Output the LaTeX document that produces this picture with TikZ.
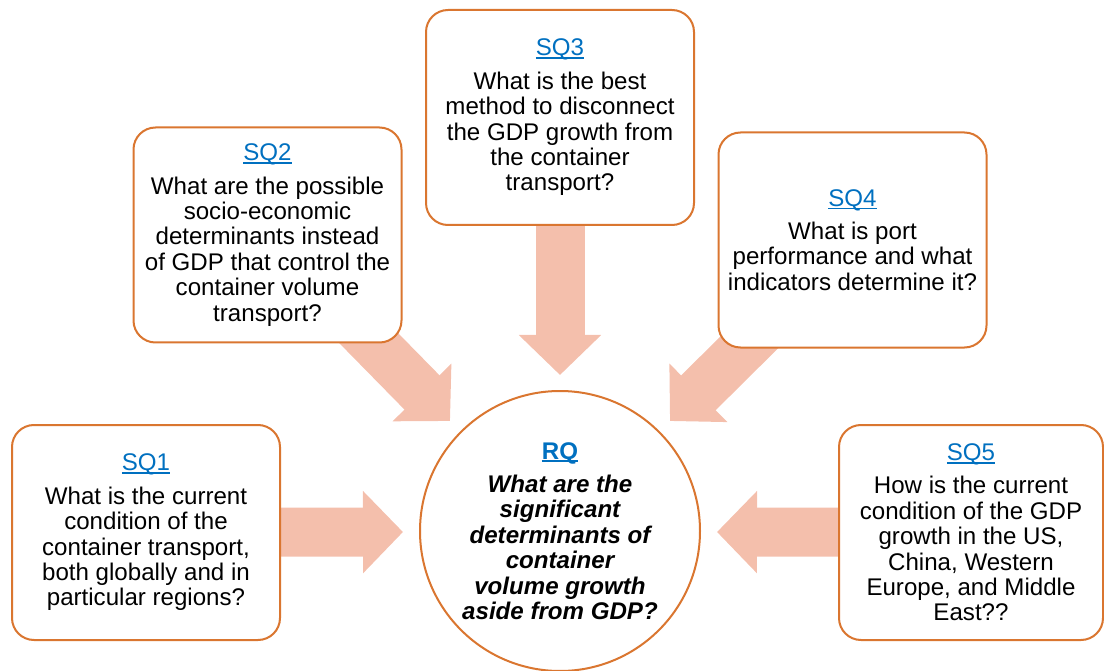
\documentclass[tikz,border=0pt]{standalone}
\usepackage{fontspec}
\setmainfont{Liberation Sans}
\usetikzlibrary{arrows.meta,backgrounds}

\definecolor{boxline}{RGB}{218,118,48}
\definecolor{flowfill}{RGB}{244,191,172}
\definecolor{linkblue}{RGB}{0,112,192}
\newcommand{\qlabel}[1]{\textcolor{linkblue}{\setbox0\hbox{#1}\rlap{\rule[-3pt]{\wd0}{1.6pt}}\box0}}

\begin{document}
\begin{tikzpicture}[x=1pt, y=-1pt,
        box/.style={draw=boxline, line width=2pt, fill=white, rounded corners=22pt,
            minimum width=268pt, minimum height=215pt, inner sep=0pt, align=center,
            font=\fontsize{24.1}{25.4}\selectfont},
        rq/.style={draw=boxline, line width=2pt, fill=white, circle, minimum size=280pt,
            inner sep=0pt, align=center, font=\fontsize{24.1}{25.4}\selectfont\bfseries\itshape},
        flow/.style={draw=flowfill, line width=49pt, -{Triangle[length=40pt, width=80pt]}}
    ]
        \useasboundingbox (0,0) rectangle (1104,671);

        \node[box] (sq1) at (146,532.5) {\qlabel{SQ1}\\[8pt]What is the current\\condition of the\\container transport,\\both globally and in\\particular regions?};
        \node[box] (sq2) at (267.5,235) {\qlabel{SQ2}\\[8pt]What are the possible\\socio-economic\\determinants instead\\of GDP that control the\\container volume\\transport?};
        \node[box] (sq3) at (560,117.5) {\qlabel{SQ3}\\[8pt]What is the best\\method to disconnect\\the GDP growth from\\the container\\transport?};
        \node[box] (sq4) at (852.5,240) {\qlabel{SQ4}\\[8pt]What is port\\performance and what\\indicators determine it?};
        \node[box, minimum width=264pt] (sq5) at (971,532.5) {\qlabel{SQ5}\\[8pt]How is the current\\condition of the GDP\\growth in the US,\\China, Western\\Europe, and Middle\\East??};
        \node[rq] (rq) at (560,531) {\qlabel{\upshape RQ}\\[8pt]What are the\\significant\\determinants of\\container\\volume growth\\aside from GDP?};

        % arrow tips in front of the circle
        \coordinate (t1) at (403,532);
        \coordinate (t2) at (450,421);
        \coordinate (t3) at (560,375);
        \coordinate (t4) at (670,421);
        \coordinate (t5) at (717,532);

        \begin{scope}[on background layer]
            \draw[flow] (sq1.center) -- (t1);
            \draw[flow] (sq2.center) -- (t2);
            \draw[flow] (sq3.center) -- (t3);
            \draw[flow] (sq4.center) -- (t4);
            \draw[flow] (sq5.center) -- (t5);
        \end{scope}
    \end{tikzpicture}
\end{document}
